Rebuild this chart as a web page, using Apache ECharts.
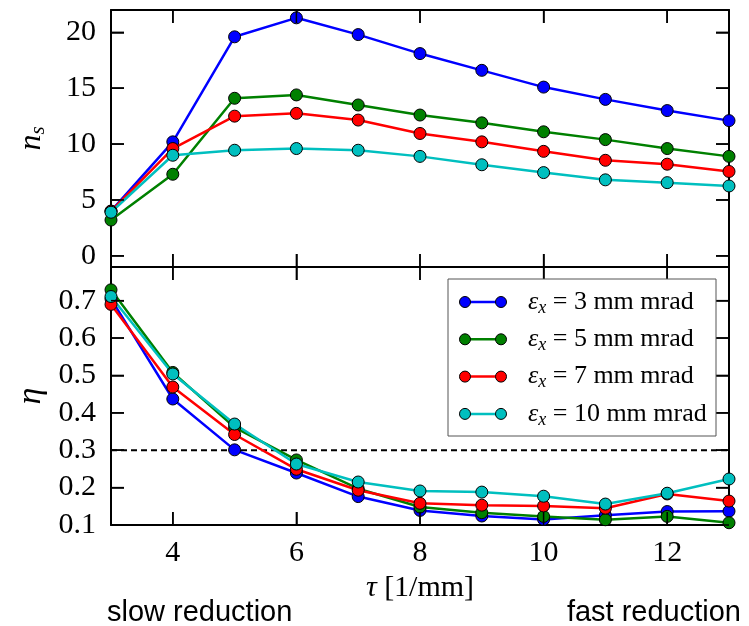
<!DOCTYPE html>
<html>
<head>
<meta charset="utf-8">
<script src="https://cdn.jsdelivr.net/npm/echarts@6/dist/echarts.min.js"></script>
<style>
  html, body { margin: 0; padding: 0; background: #fff; }
  #chart { width: 749px; height: 626px; }
</style>
</head>
<body>
<div id="chart"></div>
<script>
// tau values (x), shared by both panels
const tau = [3, 4, 5, 6, 7, 8, 9, 10, 11, 12, 13];
const emittances = [3, 5, 7, 10];
const colors = ['#0000ff', '#008000', '#ff0000', '#00bfbf'];

// top panel: n_s
const ns3 = [4.0, 10.2, 19.6, 21.3, 19.8, 18.1, 16.6, 15.1, 14.0, 13.0, 12.1];
const ns5 = [3.2, 7.3, 14.1, 14.4, 13.5, 12.6, 11.9, 11.1, 10.4, 9.6, 8.9];
const ns7 = [4.0, 9.6, 12.5, 12.75, 12.15, 10.95, 10.2, 9.35, 8.55, 8.2, 7.55];
const ns10 = [3.9, 9.0, 9.45, 9.6, 9.45, 8.9, 8.15, 7.45, 6.8, 6.55, 6.25];

// bottom panel: eta
const eta3 = [0.705, 0.437, 0.301, 0.239, 0.176, 0.139, 0.124, 0.115, 0.126, 0.136, 0.137];
const eta5 = [0.729, 0.508, 0.361, 0.274, 0.197, 0.148, 0.133, 0.123, 0.114, 0.123, 0.106];
const eta7 = [0.69, 0.469, 0.342, 0.249, 0.193, 0.158, 0.153, 0.151, 0.145, 0.183, 0.164];
const eta10 = [0.711, 0.504, 0.370, 0.263, 0.215, 0.191, 0.188, 0.177, 0.156, 0.185, 0.223];
const etaThreshold = 0.3;

// ticks
const xTicks = [4, 6, 8, 10, 12];
const nsTicks = [0, 5, 10, 15, 20];
const etaTicks = [0.1, 0.2, 0.3, 0.4, 0.5, 0.6, 0.7];

const nsSeries = [ns3, ns5, ns7, ns10];
const etaSeries = [eta3, eta5, eta7, eta10];

const serif = '"Liberation Serif", "DejaVu Serif", serif';
const sans = '"Liberation Sans", Arial, sans-serif';

const chart = echarts.init(document.getElementById('chart'));

const frameLine = { show: true, onZero: false, lineStyle: { color: '#000', width: 2 } };
const labelStyle = { color: '#000', fontFamily: serif, fontSize: 30 };
const TICK_LEN = 13;

function ax(extra, ticks) {
  return Object.assign(
    { type: 'value', axisLine: frameLine, splitLine: { show: false }, axisLabel: { show: false } },
    extra,
    { axisTick: { show: true, inside: true, length: TICK_LEN, customValues: ticks, lineStyle: { color: '#000', width: 1.5 } } }
  );
}

const series = [];
emittances.forEach((e, i) => {
  series.push({
    type: 'line',
    name: 'ns' + e,
    xAxisIndex: 0,
    yAxisIndex: 0,
    data: tau.map((t, k) => [t, nsSeries[i][k]]),
    symbol: 'circle',
    symbolSize: 12,
    lineStyle: { color: colors[i], width: 2.5 },
    itemStyle: { color: colors[i], borderColor: '#000', borderWidth: 1 }
  });
});
series.push({
  type: 'line',
  name: 'threshold',
  xAxisIndex: 2,
  yAxisIndex: 2,
  data: [[tau[0], etaThreshold], [tau[tau.length - 1], etaThreshold]],
  symbol: 'none',
  lineStyle: { color: '#000', width: 2, type: [6, 4] }
});
emittances.forEach((e, i) => {
  series.push({
    type: 'line',
    name: 'eta' + e,
    xAxisIndex: 2,
    yAxisIndex: 2,
    data: tau.map((t, k) => [t, etaSeries[i][k]]),
    symbol: 'circle',
    symbolSize: 12,
    lineStyle: { color: colors[i], width: 2.5 },
    itemStyle: { color: colors[i], borderColor: '#000', borderWidth: 1 }
  });
});

chart.setOption({
  animation: false,
  grid: [
    { left: 111, width: 618, top: 10, height: 257 },
    { left: 111, width: 618, top: 267, height: 258 }
  ],
  xAxis: [
    ax({ gridIndex: 0, position: 'bottom', min: 3, max: 13 }, xTicks),
    ax({ gridIndex: 0, position: 'top', min: 3, max: 13 }, xTicks),
    ax({
      gridIndex: 1, position: 'bottom', min: 3, max: 13,
      axisLabel: Object.assign({ show: true, customValues: xTicks, margin: 13 }, labelStyle),
      name: '{i|τ} [1/mm]',
      nameLocation: 'middle',
      nameGap: 48,
      nameTextStyle: {
        fontFamily: serif, fontSize: 30, color: '#000',
        rich: { i: { fontFamily: serif, fontStyle: 'italic', fontSize: 30 } }
      }
    }, xTicks),
    ax({ gridIndex: 1, position: 'top', min: 3, max: 13 }, xTicks)
  ],
  yAxis: [
    ax({
      gridIndex: 0, position: 'left', min: -1, max: 22,
      axisLabel: Object.assign({ show: true, customValues: nsTicks, margin: 15 }, labelStyle),
      name: '{n|n}{s|s}',
      nameLocation: 'middle',
      nameGap: 62,
      nameTextStyle: {
        color: '#000',
        rich: {
          n: { fontFamily: serif, fontStyle: 'italic', fontSize: 32, lineHeight: 34 },
          s: { fontFamily: serif, fontStyle: 'italic', fontSize: 21, lineHeight: 14, verticalAlign: 'bottom' }
        }
      }
    }, nsTicks),
    ax({ gridIndex: 0, position: 'right', min: -1, max: 22 }, nsTicks),
    ax({
      gridIndex: 1, position: 'left', min: 0.1, max: 0.79,
      axisLabel: Object.assign({ show: true, customValues: etaTicks, margin: 15 }, labelStyle),
      name: 'η',
      nameLocation: 'middle',
      nameGap: 62,
      nameTextStyle: { color: '#000', fontFamily: serif, fontStyle: 'italic', fontSize: 34 }
    }, etaTicks),
    ax({ gridIndex: 1, position: 'right', min: 0.1, max: 0.79 }, etaTicks)
  ],
  series
});

// inward tick marks on all four sides of both panels, placed through the axes' own scales
const tickLines = [];
const tickLine = (x1, y1, x2, y2) => tickLines.push({
  type: 'line',
  shape: { x1, y1, x2, y2 },
  style: { stroke: '#000', lineWidth: 1.5 },
  z: 50
});
[[0, -1, 22, nsTicks], [2, 0.1, 0.79, etaTicks]].forEach(([idx, yMin, yMax, yTicks]) => {
  const left = chart.convertToPixel({ xAxisIndex: idx }, 3);
  const right = chart.convertToPixel({ xAxisIndex: idx }, 13);
  const bottom = chart.convertToPixel({ yAxisIndex: idx }, yMin);
  const top = chart.convertToPixel({ yAxisIndex: idx }, yMax);
  xTicks.forEach(v => {
    const px = chart.convertToPixel({ xAxisIndex: idx }, v);
    tickLine(px, bottom, px, bottom - TICK_LEN);
    tickLine(px, top, px, top + TICK_LEN);
  });
  yTicks.forEach(v => {
    const py = chart.convertToPixel({ yAxisIndex: idx }, v);
    tickLine(left, py, left + TICK_LEN, py);
    tickLine(right, py, right - TICK_LEN, py);
  });
});

// legend drawn as graphic, in the lower panel
const legendItems = [{
  type: 'rect',
  shape: { x: 448, y: 279, width: 268, height: 157 },
  style: { fill: '#fff', stroke: '#555', lineWidth: 1 },
  z: 100
}];
emittances.forEach((e, i) => {
  const yc = 302 + i * 37.3;
  legendItems.push({
    type: 'line',
    shape: { x1: 465, y1: yc, x2: 501, y2: yc },
    style: { stroke: colors[i], lineWidth: 2.5 },
    z: 101
  });
  [465, 501].forEach(cx => legendItems.push({
    type: 'circle',
    shape: { cx, cy: yc, r: 5.5 },
    style: { fill: colors[i], stroke: '#000', lineWidth: 1 },
    z: 102
  }));
  legendItems.push({
    type: 'text',
    x: 528,
    y: yc,
    style: {
      text: '{e|ε}{s|x}{t| = ' + e + ' mm mrad}',
      verticalAlign: 'middle',
      fill: '#000',
      rich: {
        e: { fontFamily: serif, fontStyle: 'italic', fontSize: 26, lineHeight: 30 },
        s: { fontFamily: serif, fontStyle: 'italic', fontSize: 18, lineHeight: 12, verticalAlign: 'bottom' },
        t: { fontFamily: serif, fontSize: 26, lineHeight: 30 }
      }
    },
    z: 102
  });
});

chart.setOption({
  graphic: tickLines.concat(legendItems, [
    {
      type: 'text', x: 107, y: 613,
      style: { text: 'slow reduction', fontFamily: sans, fontSize: 29, fill: '#000', verticalAlign: 'middle', align: 'left' }
    },
    {
      type: 'text', x: 741, y: 613,
      style: { text: 'fast reduction', fontFamily: sans, fontSize: 29, fill: '#000', verticalAlign: 'middle', align: 'right' }
    }
  ])
});
</script>
</body>
</html>
